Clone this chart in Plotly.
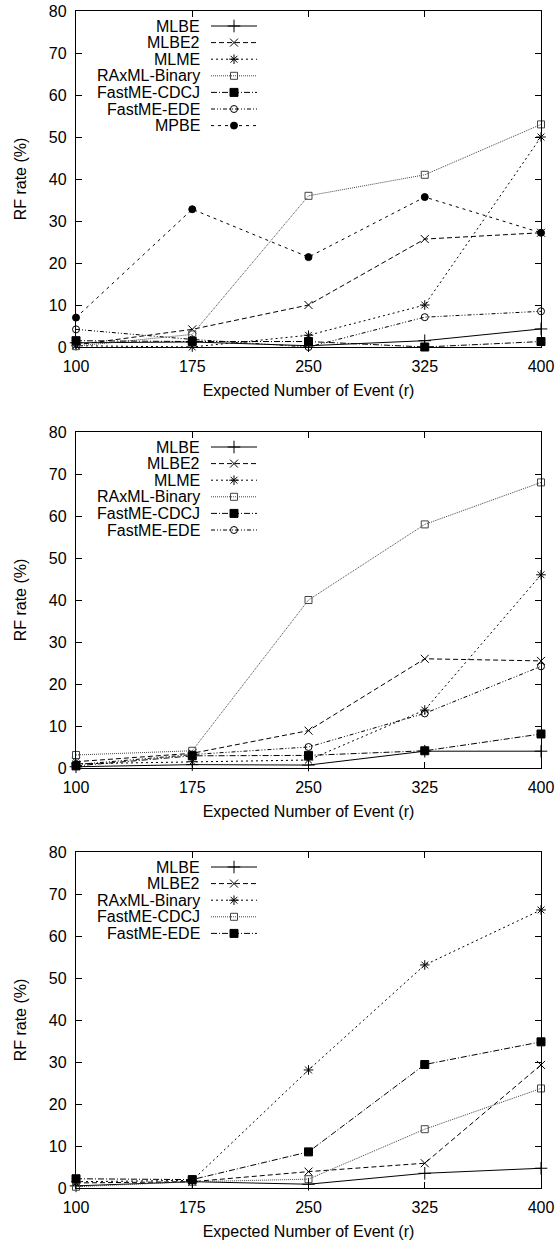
import plotly.graph_objects as go

W, H = 556, 1241

# ---------------- data ----------------
events = [100, 175, 250, 325, 400]
x_tick_labels = ["100", "175", "250", "325", "400"]
y_tick_values = [0, 10, 20, 30, 40, 50, 60, 70, 80]

# panel 1
names_a = ["MLBE", "MLBE2", "MLME", "RAxML-Binary", "FastME-CDCJ", "FastME-EDE", "MPBE"]
mlbe_a = [1.0, 1.2, 0.3, 1.5, 4.3]
mlbe2_a = [0.5, 4.2, 10.0, 25.7, 27.2]
mlme_a = [0.3, 0.0, 2.8, 10.0, 50.0]
raxml_a = [0.2, 3.0, 36.0, 41.0, 53.0]
cdcj_a = [1.5, 1.3, 1.3, 0.0, 1.3]
ede_a = [4.2, 1.8, 0.0, 7.1, 8.5]
mpbe_a = [7.0, 32.8, 21.4, 35.7, 27.2]

# panel 2
names_b = ["MLBE", "MLBE2", "MLME", "RAxML-Binary", "FastME-CDCJ", "FastME-EDE"]
mlbe_b = [0.3, 0.8, 0.7, 4.0, 4.0]
mlbe2_b = [1.5, 3.5, 8.9, 26.0, 25.5]
mlme_b = [1.0, 1.5, 1.9, 13.8, 46.0]
raxml_b = [3.1, 4.1, 40.0, 58.0, 68.0]
cdcj_b = [0.5, 2.9, 3.0, 4.1, 8.1]
ede_b = [0.8, 3.2, 5.0, 13.0, 24.2]

# panel 3
names_c = ["MLBE", "MLBE2", "RAxML-Binary", "FastME-CDCJ", "FastME-EDE"]
mlbe_c = [0.5, 1.5, 0.9, 3.5, 4.7]
mlbe2_c = [1.2, 1.5, 3.9, 5.9, 29.3]
raxml_c = [1.5, 1.8, 28.1, 53.1, 66.2]
cdcj_c = [0.3, 1.5, 2.1, 14.0, 23.7]
ede_c = [2.2, 2.0, 8.6, 29.4, 34.8]

panels = [
    (names_a, [mlbe_a, mlbe2_a, mlme_a, raxml_a, cdcj_a, ede_a, mpbe_a]),
    (names_b, [mlbe_b, mlbe2_b, mlme_b, raxml_b, cdcj_b, ede_b]),
    (names_c, [mlbe_c, mlbe2_c, raxml_c, cdcj_c, ede_c]),
]

# ---------------- styles (gnuplot line types by position) ----------------
BLACK = "#000000"
styles = [
    dict(dash="solid", symbol="cross-thin", size=9, color=BLACK),
    dict(dash="5px,3px", symbol="x-thin", size=8, color=BLACK),
    dict(dash="2px,3px", symbol="asterisk", size=8, color=BLACK),
    dict(dash="1px,1px", symbol="square-open", size=7, color="#444444"),
    dict(dash="6px,2px,1px,2px", symbol="square", size=8, color=BLACK),
    dict(dash="4px,2px,1px,2px,1px,2px", symbol="circle-open", size=7, color=BLACK),
    dict(dash="3px,4px", symbol="circle", size=7, color=BLACK),
]

FONT = "Liberation Sans, Arial, Helvetica, sans-serif"
FS = 16

# panel geometry in figure pixels
left_px, right_px = 76, 541
tops_px = [11, 432, 852]
bottoms_px = [347, 768, 1188]

fig = go.Figure()

for i, (names, series) in enumerate(panels):
    k = i + 1
    xa = "x" if k == 1 else f"x{k}"
    ya = "y" if k == 1 else f"y{k}"
    for j, (name, vals) in enumerate(zip(names, series)):
        st = styles[j]
        fig.add_trace(go.Scatter(
            x=events, y=vals, name=name, mode="lines+markers",
            xaxis=xa, yaxis=ya, showlegend=False,
            line=dict(color=st["color"], width=1, dash=st["dash"]),
            marker=dict(symbol=st["symbol"], size=st["size"], color=st["color"],
                        line=dict(color=st["color"], width=1)),
            cliponaxis=False,
        ))

    xdom = [left_px / W, right_px / W]
    ydom = [1 - bottoms_px[i] / H, 1 - tops_px[i] / H]
    axis_common = dict(
        showline=True, linecolor=BLACK, linewidth=1.3, mirror="allticks",
        ticks="inside", ticklen=6, tickcolor=BLACK, tickwidth=1,
        showgrid=False, zeroline=False, automargin=False,
        tickfont=dict(family=FONT, size=FS, color=BLACK),
    )
    fig.layout[f"xaxis{'' if k == 1 else k}"] = dict(
        axis_common, domain=xdom, range=[100, 400], anchor=ya,
        tickvals=events, ticktext=x_tick_labels, ticklabelstandoff=5,
        title=dict(text="Expected Number of Event (r)", standoff=10,
                   font=dict(family=FONT, size=FS, color=BLACK)),
    )
    fig.layout[f"yaxis{'' if k == 1 else k}"] = dict(
        axis_common, domain=ydom, range=[0, 80], anchor=xa,
        tickvals=y_tick_values, ticklabelstandoff=5,
        title=dict(text="RF rate (%)", standoff=18,
                   font=dict(family=FONT, size=FS, color=BLACK)),
    )

    # legend overlay axes in pixel units of the figure
    lk = k + 3
    fig.layout[f"xaxis{lk}"] = dict(domain=xdom, range=[left_px, right_px], visible=False,
                                    anchor=f"y{lk}", overlaying=xa, fixedrange=True)
    fig.layout[f"yaxis{lk}"] = dict(domain=ydom, range=[bottoms_px[i], tops_px[i]], visible=False,
                                    anchor=f"x{lk}", overlaying=ya, fixedrange=True)
    row0 = tops_px[i] + 15
    step = 16.6
    for j, name in enumerate(names):
        st = styles[j]
        yy = row0 + j * step
        fig.add_trace(go.Scatter(
            x=[211, 257], y=[yy, yy], mode="lines", xaxis=f"x{lk}", yaxis=f"y{lk}",
            showlegend=False, hoverinfo="skip",
            line=dict(color=st["color"], width=1, dash=st["dash"]),
        ))
        fig.add_trace(go.Scatter(
            x=[234], y=[yy], mode="markers", xaxis=f"x{lk}", yaxis=f"y{lk}",
            showlegend=False, hoverinfo="skip",
            marker=dict(symbol=st["symbol"], size=st["size"], color=st["color"],
                        line=dict(color=st["color"], width=1)),
        ))
        fig.add_annotation(
            x=202, y=yy, xref=f"x{lk}", yref=f"y{lk}", text=name, showarrow=False,
            xanchor="right", yanchor="middle",
            font=dict(family=FONT, size=FS, color=BLACK),
        )

fig.update_layout(
    template="none",
    width=W, height=H,
    margin=dict(l=0, r=0, t=0, b=0),
    paper_bgcolor="white", plot_bgcolor="white",
    showlegend=False,
    font=dict(family=FONT, size=FS, color=BLACK),
)

fig.write_html("out.html", config={"displayModeBar": False},
               post_script="document.body.style.margin='0';")
